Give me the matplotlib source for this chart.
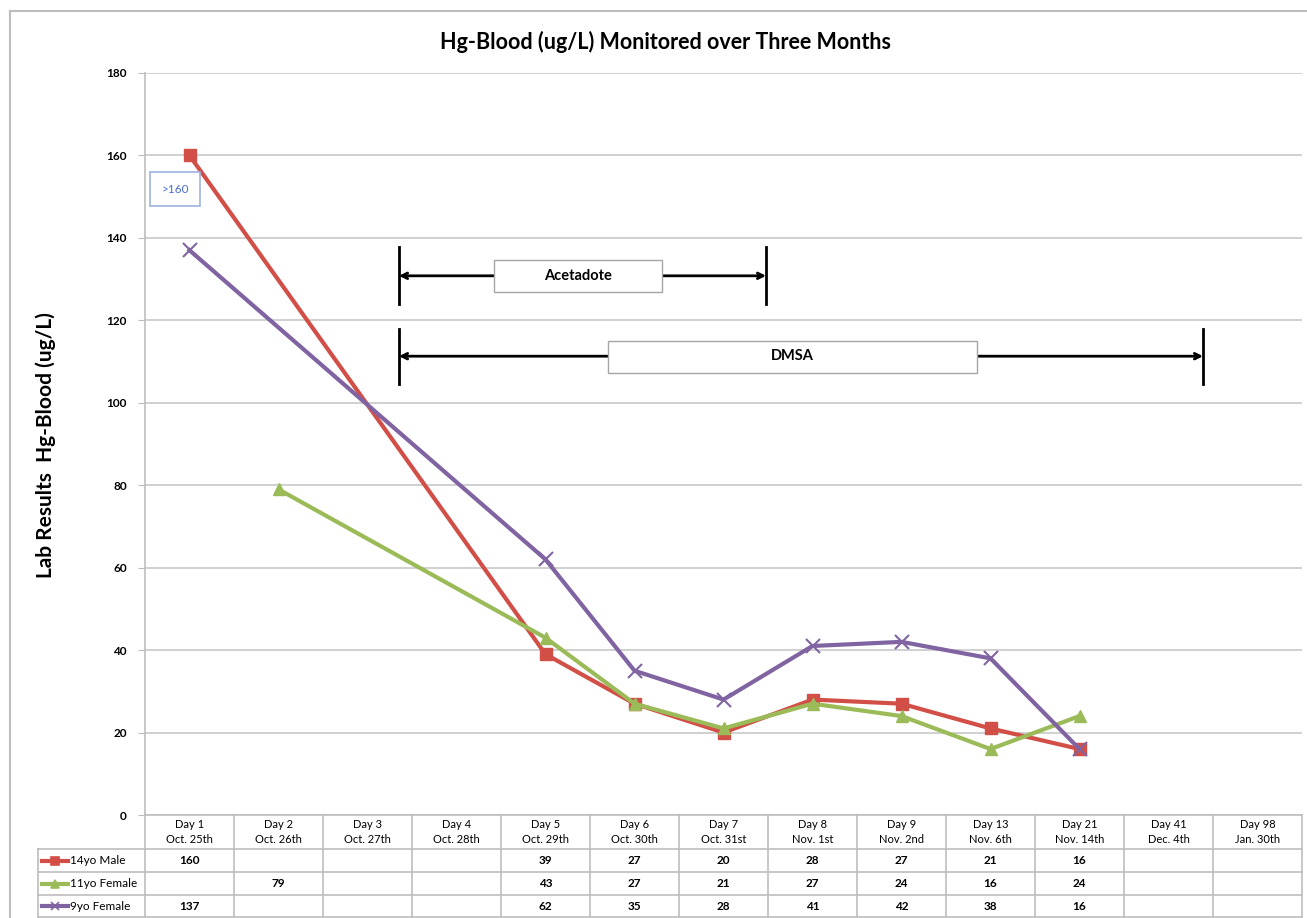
import matplotlib
matplotlib.use('Agg')
import matplotlib.pyplot as plt
import matplotlib.transforms as mtransforms
from matplotlib.lines import Line2D

plt.rcParams['font.family'] = ['Lato', 'DejaVu Sans']

days = ['Day 1', 'Day 2', 'Day 3', 'Day 4', 'Day 5', 'Day 6', 'Day 7',
        'Day 8', 'Day 9', 'Day 13', 'Day 21', 'Day 41', 'Day 98']
dates = ['Oct. 25th', 'Oct. 26th', 'Oct. 27th', 'Oct. 28th', 'Oct. 29th',
         'Oct. 30th', 'Oct. 31st', 'Nov. 1st', 'Nov. 2nd', 'Nov. 6th',
         'Nov. 14th', 'Dec. 4th', 'Jan. 30th']

male_14 = [160, None, None, None, 39, 27, 20, 28, 27, 21, 16, None, None]
female_11 = [None, 79, None, None, 43, 27, 21, 27, 24, 16, 24, None, None]
female_9 = [137, None, None, None, 62, 35, 28, 41, 42, 38, 16, None, None]

series_names = ['14yo Male', '11yo Female', '9yo Female']
series_vals = [male_14, female_11, female_9]
COLORS = ['#D24F47', '#9BBB59', '#8064A2']
MARKERS = ['s', '^', 'x']

W, H = 1307, 918
fig = plt.figure(figsize=(W / 100, H / 100), dpi=100)
ax = fig.add_axes([145 / W, 1 - 815 / H, (1302 - 145) / W, (815 - 73) / H])

# outer frame
fig.add_artist(Line2D([10 / W, 10 / W], [0, 1 - 11 / H], transform=fig.transFigure,
                      color='#BDBDBD', lw=1.5))
fig.add_artist(Line2D([10 / W, 1], [1 - 11 / H, 1 - 11 / H], transform=fig.transFigure,
                      color='#BDBDBD', lw=1.5))

n = len(days)
for i, (name, vals) in enumerate(zip(series_names, series_vals)):
    xs = [k for k, v in enumerate(vals) if v is not None]
    ys = [v for v in vals if v is not None]
    ax.plot(xs, ys, color=COLORS[i], lw=3, marker=MARKERS[i],
            markersize=9 if MARKERS[i] != 'x' else 10,
            markeredgewidth=1 if MARKERS[i] != 'x' else 1.5,
            markerfacecolor=COLORS[i], markeredgecolor=COLORS[i], zorder=3)

ax.set_xlim(-0.5, n - 0.5)
ax.set_ylim(0, 180)
ax.set_yticks(range(0, 181, 20))
ax.set_xticks([])
ax.grid(True, axis='y', color='#C8C8C8', lw=1.2)
ax.set_axisbelow(True)
for s in ['top', 'right', 'bottom']:
    ax.spines[s].set_visible(False)
ax.spines['left'].set_color('#BDBDBD')
ax.spines['left'].set_linewidth(1.2)
ax.tick_params(axis='y', length=5, color='#BDBDBD', labelsize=8.5, pad=8)
for lab in ax.get_yticklabels():
    lab.set_fontweight('bold')

fig.text(665 / W, 1 - 42 / H, 'Hg-Blood (ug/L) Monitored over Three Months',
         ha='center', va='center', fontsize=15.5, fontweight='bold')
fig.text(46 / W, 1 - 445 / H, 'Lab Results  Hg-Blood (ug/L)', rotation=90,
         ha='center', va='center', fontsize=15, fontweight='bold')

# data table below the axis
tr = mtransforms.blended_transform_factory(ax.transData, ax.transAxes)
ah = 815 - 73


def fy(py):
    return (815 - py) / ah


gc = '#BDBDBD'
row_tops = [815, 849, 872, 895, 917]
x_leg = (38 - 145) / 89 - 0.5
# horizontal lines
ax.plot([-0.5, n - 0.5], [fy(815)] * 2, transform=tr, color=gc, lw=1.2, clip_on=False)
for py in row_tops[1:]:
    ax.plot([x_leg, n - 0.5], [fy(py)] * 2, transform=tr, color=gc, lw=1.2, clip_on=False)
# vertical lines
for k in range(n + 1):
    ax.plot([k - 0.5] * 2, [fy(815), fy(917)], transform=tr, color=gc, lw=1.2, clip_on=False)
ax.plot([x_leg] * 2, [fy(849), fy(917)], transform=tr, color=gc, lw=1.2, clip_on=False)

for k in range(n):
    ax.text(k, fy(832), days[k] + '\n' + dates[k], transform=tr, ha='center',
            va='center', fontsize=8, linespacing=1.4)

for r, (name, vals) in enumerate(zip(series_names, series_vals)):
    yc = fy((row_tops[r + 1] + row_tops[r + 2]) / 2)
    ax.plot([x_leg + 0.04, x_leg + 0.34], [yc, yc], transform=tr, color=COLORS[r],
            lw=3, clip_on=False)
    ax.plot([x_leg + 0.19], [yc], transform=tr, color=COLORS[r], marker=MARKERS[r],
            markersize=6, markeredgewidth=1.2, clip_on=False)
    ax.text(x_leg + 0.36, yc, name, transform=tr, ha='left', va='center', fontsize=8.5)
    for k, v in enumerate(vals):
        if v is not None:
            ax.text(k, yc, str(v), transform=tr, ha='center', va='center', fontsize=8.5,
                    fontweight='bold')

# ">160" callout
ax.add_patch(plt.Rectangle((-0.44, 147.7), 0.56, 8.2, facecolor='white',
                           edgecolor='#9DB3E0', lw=1.2, zorder=5))
ax.text(-0.16, 151.8, '>160', ha='center', va='center', fontsize=8.5, color='#4A6FD0',
        zorder=6)

# treatment span annotations
def span(x0, x1, yv, y_lo, y_hi, box_l, box_r, box_lo, box_hi, label):
    ax.plot([x0, x0], [y_lo, y_hi], color='black', lw=2, zorder=4)
    ax.plot([x1, x1], [y_lo, y_hi], color='black', lw=2, zorder=4)
    ax.annotate('', xy=(x0, yv), xytext=(box_l, yv),
                arrowprops=dict(arrowstyle='->', lw=2, color='black', shrinkA=0, shrinkB=0))
    ax.annotate('', xy=(x1, yv), xytext=(box_r, yv),
                arrowprops=dict(arrowstyle='->', lw=2, color='black', shrinkA=0, shrinkB=0))
    ax.add_patch(plt.Rectangle((box_l, box_lo), box_r - box_l, box_hi - box_lo,
                               facecolor='white', edgecolor='#A6A6A6', lw=1, zorder=4))
    ax.text((box_l + box_r) / 2, yv, label, ha='center', va='center', fontsize=10.5,
            fontweight='bold', zorder=5)


span(2.354, 6.478, 130.8, 124.0, 137.8, 3.42, 5.31, 126.9, 134.6, 'Acetadote')
span(2.354, 11.388, 111.3, 104.6, 117.8, 4.70, 8.85, 107.2, 115.0, 'DMSA')

fig.savefig('out.png', dpi=100)
